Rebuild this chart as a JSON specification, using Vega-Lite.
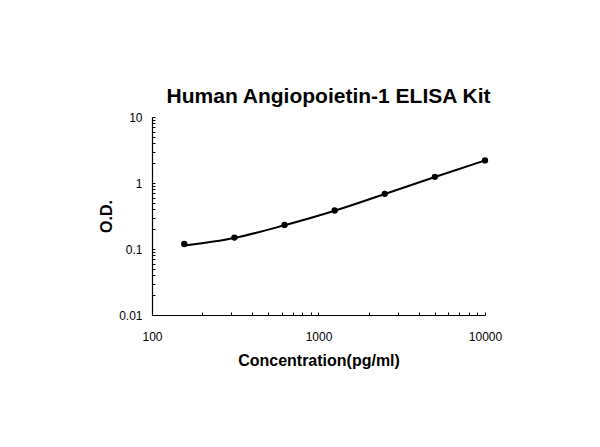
{
  "$schema": "https://vega.github.io/schema/vega-lite/v6.json",
  "autosize": "none",
  "width": 333,
  "height": 198,
  "padding": {"left": 152, "top": 117, "right": 115, "bottom": 132},
  "background": "white",
  "title": {
    "text": "Human Angiopoietin-1 ELISA Kit",
    "font": "Liberation Sans",
    "fontSize": 21,
    "fontWeight": "bold",
    "color": "black",
    "offset": 4,
    "dx": 10
  },
  "config": {
    "view": {"stroke": null},
    "axis": {
      "grid": false,
      "domainColor": "black",
      "domainWidth": 1.2,
      "tickColor": "black",
      "tickSize": -3,
      "labelFont": "Liberation Sans",
      "labelFontSize": 12,
      "labelColor": "black",
      "titleFont": "Liberation Sans",
      "titleFontSize": 16,
      "titleFontWeight": "bold",
      "titleColor": "black",
      "labelOverlap": false,
      "labelBound": false,
      "labelFlush": false
    }
  },
  "data": {
    "values": [
      {"conc": 156.25, "od": 0.119, "fit": 0.113},
      {"conc": 312.5, "od": 0.149, "fit": 0.147},
      {"conc": 625, "od": 0.232, "fit": 0.229},
      {"conc": 1250, "od": 0.383, "fit": 0.38},
      {"conc": 2500, "od": 0.686, "fit": 0.68},
      {"conc": 5000, "od": 1.24, "fit": 1.23},
      {"conc": 10000, "od": 2.2, "fit": 2.2}
    ]
  },
  "encoding": {
    "x": {
      "field": "conc",
      "type": "quantitative",
      "scale": {"type": "log", "domain": [100, 10000], "nice": false},
      "axis": {
        "title": "Concentration(pg/ml)",
        "titlePadding": 10,
        "labelPadding": 19,
        "format": "~g",
        "values": [100, 200, 300, 400, 500, 600, 700, 800, 900, 1000, 2000, 3000, 4000, 5000, 6000, 7000, 8000, 9000, 10000],
        "labelExpr": "indexof([100, 1000, 10000], datum.value) >= 0 ? datum.label : ''"
      }
    },
    "y": {
      "type": "quantitative",
      "scale": {"type": "log", "domain": [0.01, 10], "nice": false},
      "axis": {
        "title": "O.D.",
        "titlePadding": 4,
        "labelPadding": 13,
        "format": "~g",
        "values": [0.01, 0.02, 0.03, 0.04, 0.05, 0.06, 0.07, 0.08, 0.09, 0.1, 0.2, 0.3, 0.4, 0.5, 0.6, 0.7, 0.8, 0.9, 1, 2, 3, 4, 5, 6, 7, 8, 9, 10],
        "labelExpr": "indexof([0.01, 0.1, 1, 10], datum.value) >= 0 ? datum.label : ''"
      }
    }
  },
  "layer": [
    {
      "mark": {"type": "line", "color": "black", "strokeWidth": 2, "interpolate": "monotone"},
      "encoding": {"y": {"field": "fit", "type": "quantitative"}}
    },
    {
      "mark": {"type": "point", "filled": true, "color": "black", "size": 40, "opacity": 1},
      "encoding": {"y": {"field": "od", "type": "quantitative"}}
    }
  ]
}
